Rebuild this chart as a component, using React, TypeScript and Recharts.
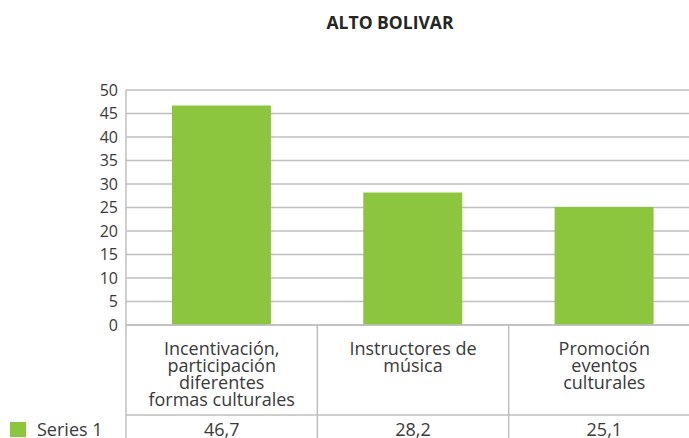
import React from "react";
import { BarChart, Bar, XAxis, YAxis, CartesianGrid } from "recharts";

const title = "ALTO BOLIVAR";
const seriesName = "Series 1";
const categories = [
  "Incentivación, participación diferentes formas culturales",
  "Instructores de música",
  "Promoción eventos culturales",
];
const categoryLines = [
  ["Incentivación,", "participación", "diferentes", "formas culturales"],
  ["Instructores de", "música"],
  ["Promoción", "eventos", "culturales"],
];
const values = [46.7, 28.2, 25.1];
const valueLabels = ["46,7", "28,2", "25,1"];
const yTicks = [0, 5, 10, 15, 20, 25, 30, 35, 40, 45, 50];

const data = categories.map((c, i) => ({ name: c, value: values[i] }));

const CHART_W = 700;
const CHART_H = 438;
const Y_W = 126;
const BAND = (CHART_W - Y_W) / categories.length;
const GRID = "#bfbfbf";
const TEXT = "#3a3a3a";
const GREEN = "#8cc63f";
const FONT = "'Open Sans', sans-serif";

const TableTick = (props: any) => {
  const { x, y, payload, index } = props;
  const i = typeof index === "number" ? index : categories.indexOf(payload.value);
  const half = BAND / 2;
  const lines = categoryLines[i] || [];
  return (
    <g>
      {i === 0 && <line x1={x - half} x2={x - half} y1={y} y2={y + 120} stroke={GRID} strokeWidth={1.5} />}
      <line x1={x + half} x2={x + half} y1={y} y2={y + 120} stroke={GRID} strokeWidth={1.5} />
      <line x1={x - half} x2={x + half} y1={y + 90} y2={y + 90} stroke={GRID} strokeWidth={1.5} />
      {i === 0 && (
        <g>
          <rect x={10} y={y + 97} width={16} height={15} fill={GREEN} />
          <text x={37} y={y + 111} fontSize={18} fill={TEXT} fontFamily={FONT}>
            {seriesName}
          </text>
        </g>
      )}
      <text x={x} y={y + 30} textAnchor="middle" fontSize={18} fill={TEXT} fontFamily={FONT}>
        {lines.map((l, k) => (
          <tspan key={k} x={x} dy={k === 0 ? 0 : 17}>
            {l}
          </tspan>
        ))}
      </text>
      <text x={x} y={y + 111} textAnchor="middle" fontSize={18} fill={TEXT} fontFamily={FONT}>
        {valueLabels[i]}
      </text>
    </g>
  );
};

export default function App() {
  return (
    <div
      style={{
        position: "fixed",
        left: 0,
        top: 0,
        width: 689,
        height: 438,
        overflow: "hidden",
        background: "#fff",
      }}
    >
      <div
        style={{
          position: "absolute",
          left: 390,
          top: 10,
          transform: "translateX(-50%)",
          fontFamily: FONT,
          fontWeight: 700,
          fontSize: 17.5,
          color: "#262626",
          whiteSpace: "nowrap",
        }}
      >
        {title}
      </div>
      <BarChart
        width={CHART_W}
        height={CHART_H}
        data={data}
        margin={{ top: 90, right: 0, bottom: 0, left: 0 }}
        barCategoryGap="24%"
        style={{ position: "absolute", left: 0, top: 0 }}
      >
        <CartesianGrid vertical={false} stroke={GRID} strokeWidth={1.5} />
        <YAxis
          width={Y_W}
          domain={[0, 50]}
          ticks={yTicks}
          interval={0}
          axisLine={{ stroke: GRID, strokeWidth: 1.5 }}
          tickLine={false}
          tickSize={0}
          tickMargin={8}
          tick={{ fontSize: 16, fill: TEXT, fontFamily: FONT }}
        />
        <XAxis
          dataKey="name"
          height={113}
          interval={0}
          axisLine={{ stroke: GRID, strokeWidth: 1.5 }}
          tickLine={false}
          tickSize={0}
          tickMargin={0}
          tick={<TableTick />}
        />
        <Bar dataKey="value" fill={GREEN} isAnimationActive={false} />
      </BarChart>
    </div>
  );
}
